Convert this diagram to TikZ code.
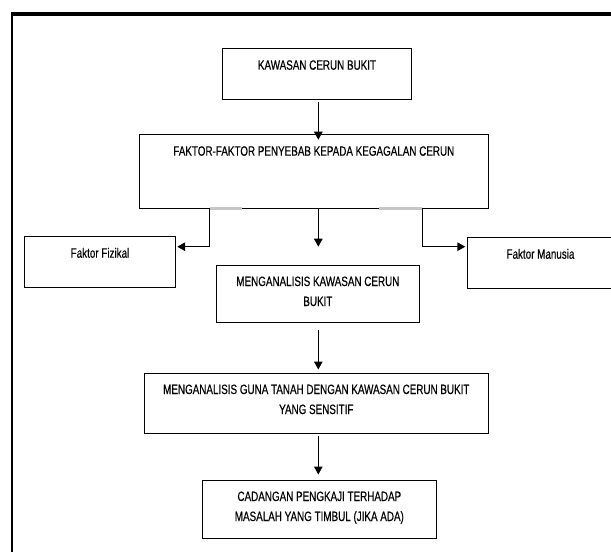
\documentclass[tikz,border=0pt]{standalone}
\usepackage{fontspec}
\setmainfont{Liberation Sans}[FakeStretch=0.73,FakeBold=0.4]
\usetikzlibrary{arrows.meta}
\newcommand\bxt[3]{\parbox[c][#2pt][t]{#1pt}{\centering\rule{0pt}{21pt}#3\par}}
\begin{document}
\begin{tikzpicture}[x=1pt,y=-1pt,
  bx/.style={draw, line width=0.9pt, inner sep=0pt, outer sep=0pt, anchor=north west,
             font=\fontsize{13.5pt}{20pt}\selectfont},
  arr/.style={line width=1.4pt, -{Triangle[length=8pt,width=8.5pt]}},
  ghost/.style={gray!45, line width=2.5pt}]
\useasboundingbox (0,0) rectangle (611,552);
\fill[white] (0,0) rectangle (611,552);
% frame
\draw[line width=2.4pt] (12.1,11.8) -- (12.1,552);
\draw[line width=4.2pt] (10.9,13.9) -- (611,13.9);
% boxes
\node[bx] (b1)  at (222.3,48.7) {\bxt{189.4}{50.3}{KAWASAN CERUN BUKIT}};
\node[bx] (b2)  at (139.3,134.7) {\bxt{349}{74}{FAKTOR-FAKTOR PENYEBAB KEPADA KEGAGALAN CERUN}};
\node[bx] (fiz) at (24.3,236.7) {\bxt{151.4}{50.3}{Faktor Fizikal}};
\node[bx] (man) at (467.3,237.7) {\bxt{146.4}{50.6}{Faktor Manusia}};
\node[bx] (m1)  at (216,265) {\bxt{203.7}{57.7}{MENGANALISIS KAWASAN CERUN\\BUKIT}};
\node[bx] (gt)  at (144.3,373) {\bxt{344}{60.3}{MENGANALISIS GUNA TANAH DENGAN KAWASAN CERUN BUKIT\\YANG SENSITIF}};
\node[bx] (cad) at (202.7,480) {\bxt{233.3}{58.3}{CADANGAN PENGKAJI TERHADAP\\MASALAH YANG TIMBUL (JIKA ADA)}};
% helper coordinates
\coordinate (cx)  at (318.3,0);
\coordinate (mid) at (318.3,246.7);
\coordinate (lx)  at (209.5,246.7);
\coordinate (rx)  at (422.3,246.7);
% faint segments on the bottom of b2
\draw[ghost] (lx |- b2.south) -- ++(32.2,0);
\draw[ghost] (rx |- b2.south) -- ++(-43.3,0);
% connectors
\draw[arr, shorten <=2.5pt, shorten >=-5pt] (cx |- b1.south) -- (cx |- b2.north);
\draw[arr] (cx |- b2.south) -- (mid);
\draw[arr, shorten >=1.5pt] (lx |- b2.south) |- (fiz.east |- lx);
\draw[arr, shorten >=2pt] (rx |- b2.south) |- (man.west |- rx);
\draw[arr, shorten <=7pt, shorten >=3.5pt] (cx |- m1.south) -- (cx |- gt.north);
\draw[arr, shorten <=2.5pt, shorten >=5.5pt] (cx |- gt.south) -- (cx |- cad.north);
\end{tikzpicture}
\end{document}
